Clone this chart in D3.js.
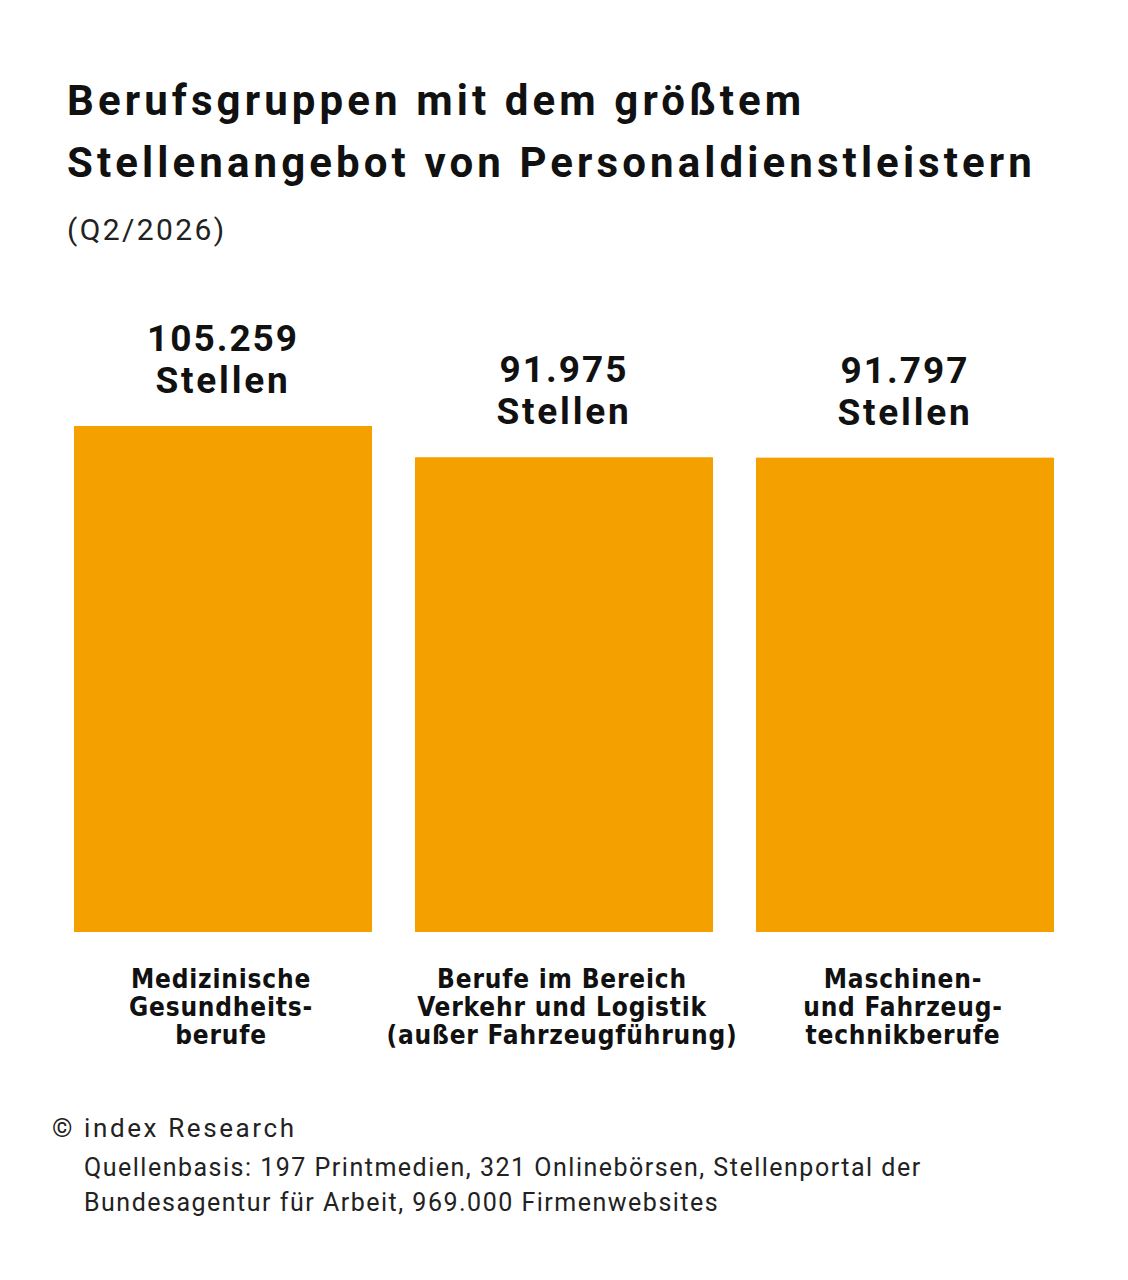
<!DOCTYPE html>
<html>
<head>
<meta charset="utf-8">
<script src="https://cdn.jsdelivr.net/npm/d3@7"></script>
<style>
  body { margin: 0; background: #fff; }
  svg text { fill: #111; }
</style>
</head>
<body>
<div id="chart"></div>
<script>
// data
var categories = ["med", "verkehr", "maschinen"];
var categoryLabels = [
    ["Medizinische", "Gesundheits-", "berufe"],
    ["Berufe im Bereich", "Verkehr und Logistik", "(außer Fahrzeugführung)"],
    ["Maschinen-", "und Fahrzeug-", "technikberufe"]
];
var values = [105259, 91975, 91797];
var valueLabels = ["105.259", "91.975", "91.797"];
var titleLines = ["Berufsgruppen mit dem größtem", "Stellenangebot von Personaldienstleistern"];
var subtitle = "(Q2/2026)";
var footerLines = ["Quellenbasis: 197 Printmedien, 321 Onlinebörsen, Stellenportal der",
                   "Bundesagentur für Arbeit, 969.000 Firmenwebsites"];

var width = 1128, height = 1280;
var barColor = "#F4A100";

var svg = d3.select("#chart").append("svg")
    .attr("width", width)
    .attr("height", height);

// title
svg.append("g").selectAll("text")
    .data(titleLines)
    .enter()
    .append("text")
    .attr("x", 67)
    .attr("y", function (d, i) { return 115 + i * 62; })
    .style("font-family", "Roboto")
    .style("font-weight", 700)
    .style("font-size", "42px")
    .style("letter-spacing", "4.1px")
    .text(function (d) { return d; });

svg.append("text")
    .attr("x", 67)
    .attr("y", 240)
    .style("font-family", "Roboto")
    .style("font-size", "30px")
    .style("letter-spacing", "2.4px")
    .style("fill", "#222")
    .text(subtitle);

// scales - baseline not at zero, matches the original graphic's proportions
var x = d3.scaleBand()
    .domain(categories)
    .range([74, 1054])
    .paddingInner(0.126)
    .paddingOuter(0);

var y = d3.scaleLinear()
    .domain([-110000, 105259])
    .range([932, 426]);

var bars = svg.append("g").selectAll("rect")
    .data(values)
    .enter()
    .append("rect")
    .attr("x", function (d, i) { return x(categories[i]); })
    .attr("y", function (d) { return y(d); })
    .attr("width", x.bandwidth())
    .attr("height", function (d) { return y.range()[0] - y(d); })
    .style("fill", barColor);

// value labels
var vl = svg.append("g").selectAll("g")
    .data(values)
    .enter()
    .append("g")
    .attr("transform", function (d, i) {
        return "translate(" + (x(categories[i]) + x.bandwidth() / 2) + "," + y(d) + ")";
    });

vl.append("text")
    .attr("y", -75)
    .attr("text-anchor", "middle")
    .style("font-family", "Roboto")
    .style("font-weight", 700)
    .style("font-size", "37px")
    .style("letter-spacing", "2px")
    .text(function (d, i) { return valueLabels[i]; });

vl.append("text")
    .attr("y", -33)
    .attr("text-anchor", "middle")
    .style("font-family", "Roboto")
    .style("font-weight", 700)
    .style("font-size", "37px")
    .style("letter-spacing", "2.8px")
    .text("Stellen");

// category labels
var cl = svg.append("g").selectAll("text")
    .data(categoryLabels)
    .enter()
    .append("text")
    .attr("text-anchor", "middle")
    .attr("transform", function (d, i) {
        return "translate(" + (x(categories[i]) + x.bandwidth() / 2 - 2) + ",988)";
    })
    .style("font-family", "'Liberation Sans Narrow', 'DejaVu Sans Condensed', sans-serif")
    .style("font-weight", 700)
    .style("font-size", "26px")
    .style("letter-spacing", "0.8px");

cl.selectAll("tspan")
    .data(function (d) { return d; })
    .enter()
    .append("tspan")
    .attr("x", 0)
    .attr("dy", function (d, i) { return i == 0 ? 0 : 28; })
    .text(function (d) { return d; });

// footer
svg.append("text")
    .attr("x", 52)
    .attr("y", 1137)
    .style("font-family", "Roboto")
    .style("font-size", "26px")
    .style("letter-spacing", "2.6px")
    .style("fill", "#222")
    .text("© index Research");

svg.append("g").selectAll("text")
    .data(footerLines)
    .enter()
    .append("text")
    .attr("x", 84)
    .attr("y", function (d, i) { return 1176 + i * 35; })
    .style("font-family", "Roboto")
    .style("font-size", "25px")
    .style("letter-spacing", "1.5px")
    .style("fill", "#222")
    .text(function (d) { return d; });
</script>
</body>
</html>
